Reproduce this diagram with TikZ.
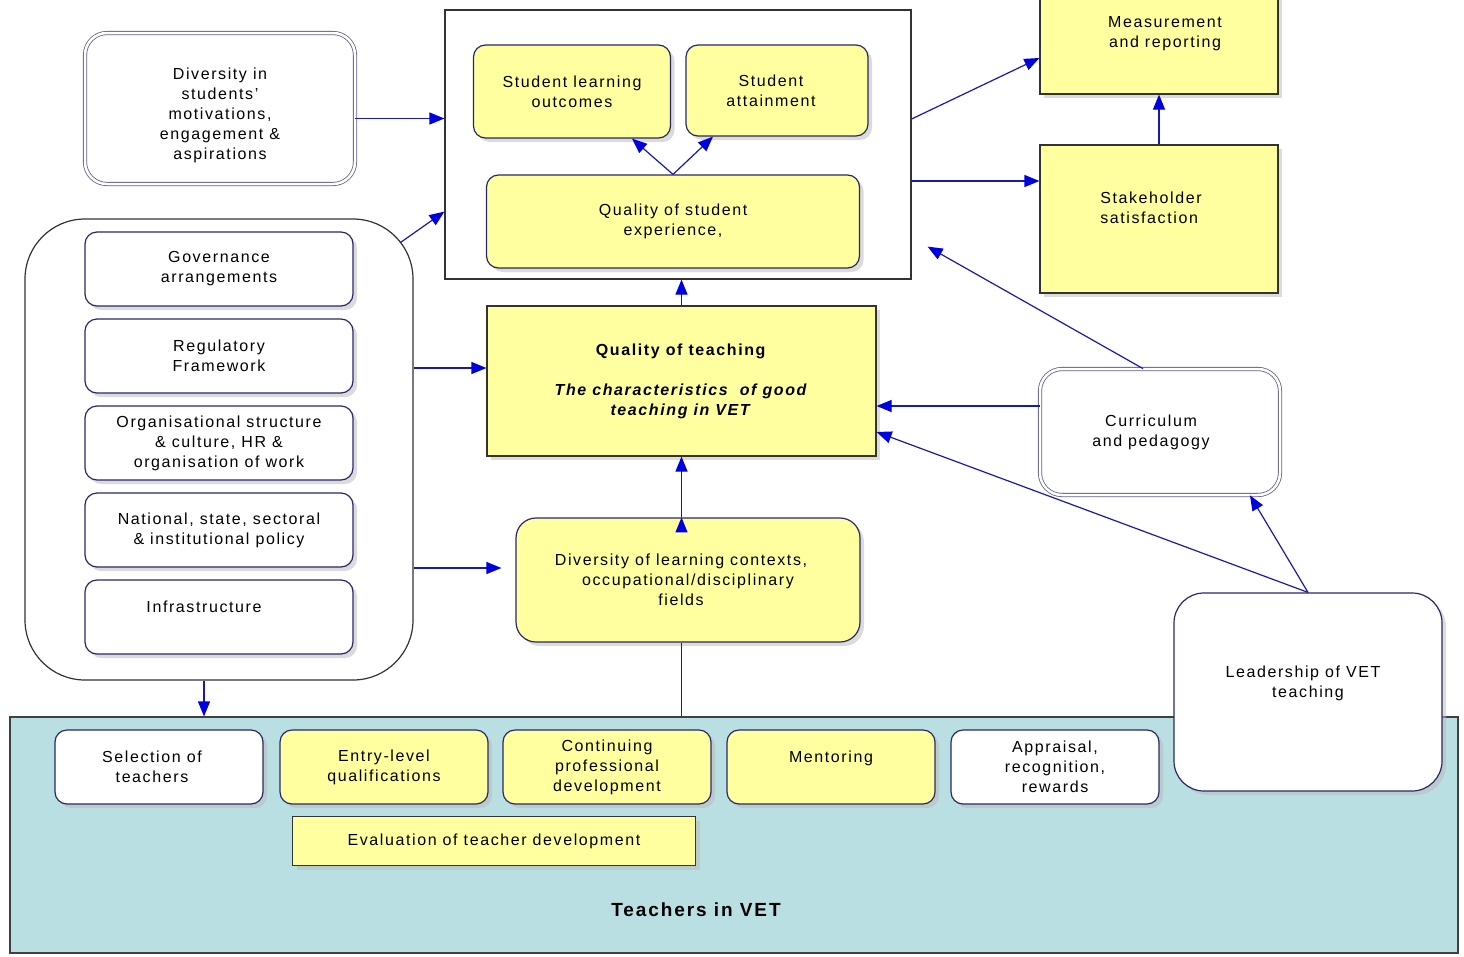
\documentclass[tikz,border=0pt]{standalone}
\usepackage{fontspec}
\setmainfont{Liberation Sans}[LetterSpace=10]
\usetikzlibrary{arrows.meta,shadows,positioning}
\definecolor{paleyellow}{RGB}{255,255,160}
\definecolor{boxedge}{RGB}{40,40,105}
\definecolor{linkblue}{RGB}{25,25,170}
\definecolor{tipblue}{RGB}{0,0,225}
\definecolor{tvetblue}{RGB}{186,223,226}

\begin{document}
\begin{tikzpicture}[x=1pt,y=-1pt,
  every node/.style={font=\fontsize{16}{20}\selectfont, align=center, inner sep=2pt},
  box/.style={draw=boxedge, line width=1.2pt, rounded corners=12pt,
    drop shadow={shadow xshift=4pt, shadow yshift=-4pt, fill=gray!55}},
  yellowbox/.style={box, fill=paleyellow},
  whitebox/.style={box, fill=white},
  dblbox/.style={draw=boxedge!75, line width=0.8pt, rounded corners=22pt, fill=white,
    double=white, double distance=2.5pt},
  flatbox/.style={draw=black!80, line width=1.2pt, fill=paleyellow,
    drop shadow={shadow xshift=4pt, shadow yshift=-4pt, fill=gray!55}},
  frame/.style={draw=black!80, line width=1.2pt, fill=white},
  link/.style={draw=linkblue, line width=1.2pt, -{Triangle[length=15pt,width=12pt,color=tipblue]}},
  plain/.style={draw=linkblue, line width=1.2pt}]
\useasboundingbox (0,0) rectangle (1464,956);

\node[draw=black!75, line width=1.2pt, fill=tvetblue, minimum width=1448pt, minimum height=236pt] (tvet) at (734,835) {};
\node[font=\bfseries\fontsize{19}{22}\selectfont] (tvetlabel) at (696,910) {Teachers in VET};
\node[whitebox, minimum width=208pt, minimum height=74pt] (selection) at (159,767) {Selection of\hspace*{14pt}\\teachers\hspace*{14pt}};
\node[yellowbox, minimum width=208pt, minimum height=74pt] (entry) at (384,767) {Entry-level\\qualifications};
\node[yellowbox, minimum width=208pt, minimum height=74pt] (cpd) at (607,767) {Continuing\\professional\\development};
\node[yellowbox, minimum width=208pt, minimum height=74pt] (mentoring) at (831,767) {Mentoring\\ \mbox{}};
\node[whitebox, minimum width=208pt, minimum height=74pt] (appraisal) at (1055,767) {Appraisal,\\recognition,\\rewards};
\node[flatbox, minimum width=403pt, minimum height=49pt] (evaluation) at (494,841) {Evaluation of teacher development};
\node[whitebox, rounded corners=30pt, minimum width=268pt, minimum height=198pt] (leadership) at (1308,692) {Leadership of VET\hspace*{10pt}\\teaching\hspace*{10pt}\\ \mbox{}};

\node[frame, minimum width=466pt, minimum height=269pt] (results) at (678,144.5) {};
\node[yellowbox, minimum width=197pt, minimum height=93pt] (learning) at (572,91.5) {Student learning\\outcomes};
\node[yellowbox, minimum width=182pt, minimum height=91pt] (attainment) at (777,90.5) {Student\hspace*{12pt}\\attainment\hspace*{12pt}};
\node[yellowbox, minimum width=373pt, minimum height=93pt] (experience) at (673,221.5) {Quality of student\\experience,};

\node[flatbox, minimum width=238pt, minimum height=120pt] (measurement) at (1159,34) {\hspace*{12pt}Measurement\\\hspace*{12pt}and reporting};
\node[flatbox, align=left, minimum width=238pt, minimum height=148pt] (stakeholder) at (1159,219) {Stakeholder\hspace*{16pt}\\satisfaction\\[2pt]\mbox{}};
\node[dblbox, minimum width=240pt, minimum height=126pt] (curriculum) at (1160,432) {Curriculum\hspace*{18pt}\\and pedagogy\hspace*{18pt}};

\node[flatbox, minimum width=389pt, minimum height=150pt] (teaching) at (681.5,381)
  {\textbf{Quality of teaching}\\[20pt]\textbf{\textit{The characteristics\ \ of good}}\\\textbf{\textit{teaching in VET}}};
\node[yellowbox, rounded corners=20pt, minimum width=344pt, minimum height=124pt] (contexts) at (688,580)
  {Diversity of learning contexts,\hspace*{14pt}\\occupational/disciplinary\hspace*{14pt}\\fields\hspace*{14pt}};

\node[dblbox, minimum width=270pt, minimum height=151pt] (students) at (220,108.5)
  {\rule{0pt}{26pt}Diversity in\\students'\\motivations,\\engagement \&\\aspirations};
\node[frame, rounded corners=60pt, minimum width=388pt, minimum height=461pt] (policy) at (219,449.5) {};
\node[whitebox, minimum width=268pt, minimum height=74pt] (governance) at (219,269) {Governance\\arrangements};
\node[whitebox, minimum width=268pt, minimum height=74pt] (regulatory) at (219,356) {Regulatory\\Framework};
\node[whitebox, minimum width=268pt, minimum height=74pt] (organisation) at (219,443) {Organisational structure\\\& culture, HR \&\\organisation of work};
\node[whitebox, minimum width=268pt, minimum height=74pt] (national) at (219,530) {National, state, sectoral\\\& institutional policy};
\node[whitebox, minimum width=268pt, minimum height=74pt] (infrastructure) at (219,617) {Infrastructure\hspace*{30pt}\\ \mbox{}};

\path[link] ([yshift=-10pt]students.east) edge ([yshift=-10pt]students.east -| results.west)
  ([xshift=-13pt,yshift=-24pt]policy.north east) edge ([yshift=68pt]results.south west)
  ([yshift=13pt]teaching.west -| policy.east) edge ([yshift=13pt]teaching.west)
  ([yshift=12pt]contexts.west -| policy.east) edge ([xshift=-14pt,yshift=12pt]contexts.west)
  ([xshift=-15pt]policy.south) edge ([xshift=-15pt]policy.south |- tvet.north)
  (teaching.north) edge (teaching.north |- results.south)
  (experience.north) edge ([xshift=60pt]learning.south)
  (experience.north) edge ([xshift=-64pt]attainment.south)
  ([yshift=25.5pt]results.east) edge ([yshift=-24pt]measurement.west)
  ([yshift=38pt]stakeholder.west -| results.east) edge ([yshift=38pt]stakeholder.west)
  (stakeholder.north) edge (measurement.south)
  ([xshift=-17pt]curriculum.north) edge ([xshift=16pt,yshift=33pt]results.south east)
  ([yshift=26pt]curriculum.west) edge ([yshift=26pt]curriculum.west -| teaching.east)
  (leadership.north) edge ([yshift=-51pt]teaching.east)
  (leadership.north) edge ([xshift=90pt]curriculum.south)
  (teaching.south |- contexts.north) edge (teaching.south);
\draw[plain] (teaching.south |- tvet.north) -- (teaching.south |- contexts.south);
\end{tikzpicture}
\end{document}
